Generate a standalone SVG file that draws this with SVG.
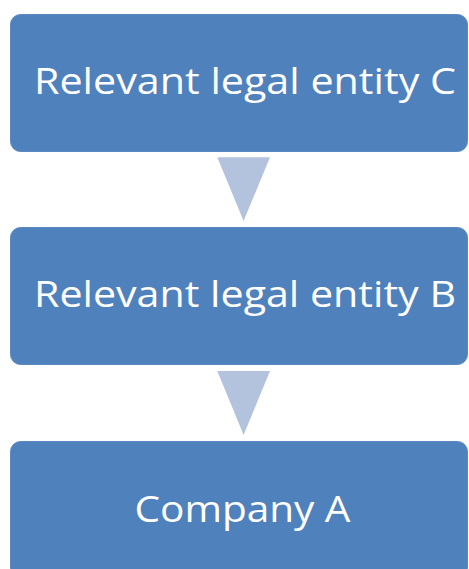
<svg xmlns="http://www.w3.org/2000/svg" width="469" height="569" viewBox="0 0 469 569">
  <style>
    .box { fill: #4F81BD; stroke: #5B8AC2; stroke-width: 1; }
    .arrow { fill: #B3C3DE; }
    .label { fill: #FFFFFF; font-family: "Open Sans", "Liberation Sans", sans-serif; font-size: 36.5px; text-anchor: middle; }
  </style>
  <rect width="469" height="569" fill="#FFFFFF"/>
  <g id="connectors">
    <polygon class="arrow" points="217.3,157.3 270,157.3 243.6,221"/>
    <polygon class="arrow" points="217.3,371 270,371 243.6,435"/>
  </g>
  <g id="entity-c">
    <rect class="box" x="10.5" y="14.5" width="457" height="137" rx="10" ry="10"/>
    <text class="label" x="245" y="93.5" textLength="422" lengthAdjust="spacingAndGlyphs">Relevant legal entity C</text>
  </g>
  <g id="entity-b">
    <rect class="box" x="10.5" y="227.5" width="457" height="137" rx="10" ry="10"/>
    <text class="label" x="245" y="307" textLength="422" lengthAdjust="spacingAndGlyphs">Relevant legal entity B</text>
  </g>
  <g id="company-a">
    <rect class="box" x="10.5" y="441.5" width="457" height="137" rx="10" ry="10"/>
    <text class="label" x="242.5" y="521.5" textLength="216" lengthAdjust="spacingAndGlyphs">Company A</text>
  </g>
</svg>
